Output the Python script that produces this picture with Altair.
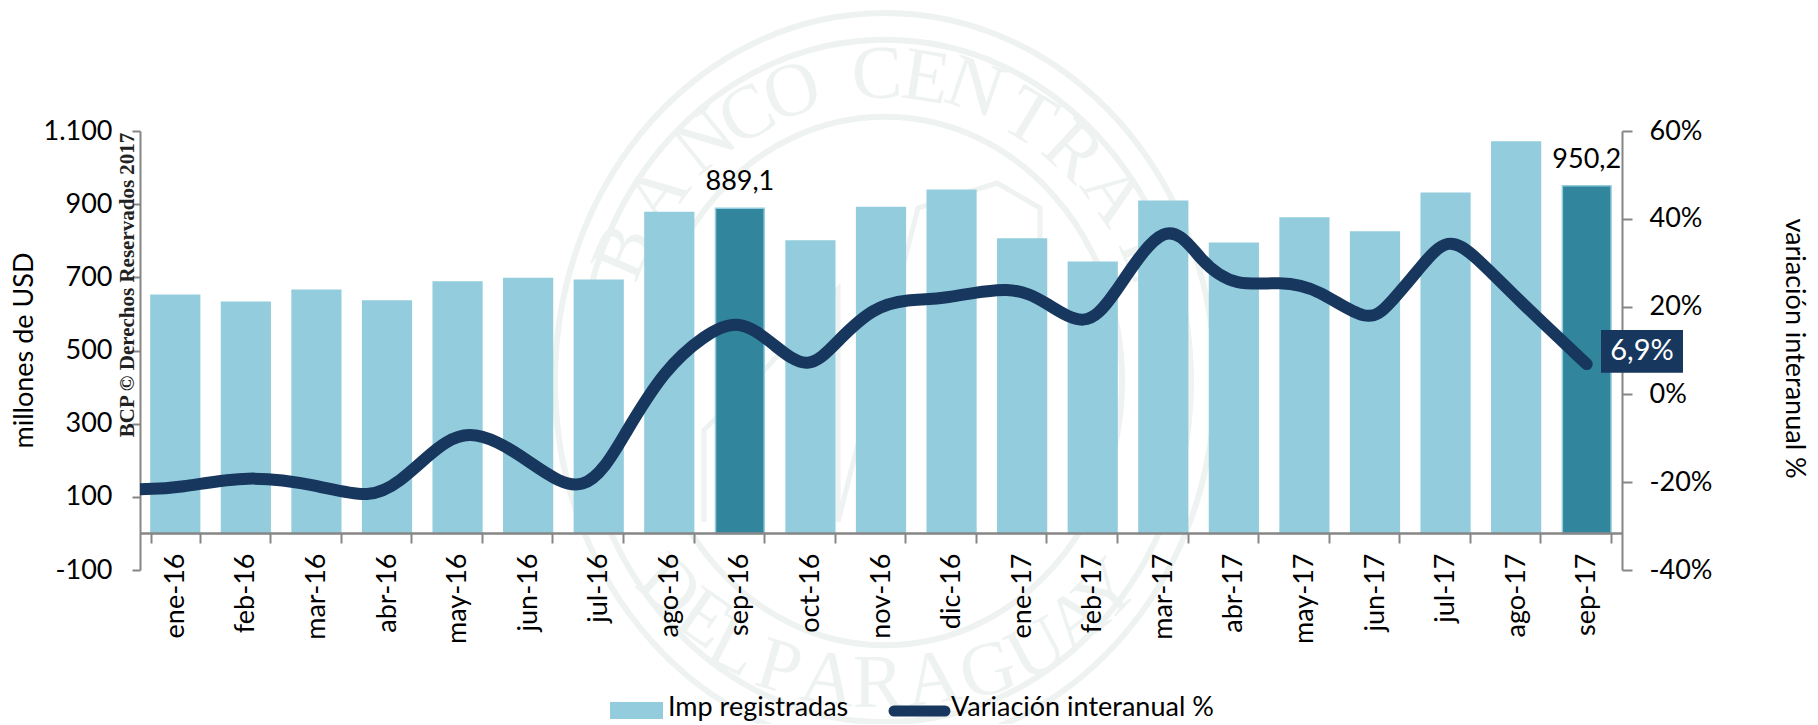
import altair as alt
import pandas as pd

months = ["ene-16","feb-16","mar-16","abr-16","may-16","jun-16","jul-16","ago-16","sep-16","oct-16","nov-16","dic-16",
          "ene-17","feb-17","mar-17","abr-17","may-17","jun-17","jul-17","ago-17","sep-17"]
imports = [651,632,665,635,687,697,692,877,889.1,799,891,938,805,741,908,793,862,824,930,1070,950.2]
highlight = ["sep-16","sep-17"]

line_pos = [0,0.55,1.53,2.51,3.27,3.71,4.02,4.63,5.48,6.31,6.90,7.43,7.99,8.49,8.98,9.47,9.89,10.39,10.88,11.38,
            12.36,12.85,13.39,13.77,14.55,15.04,15.53,16.17,16.69,17.41,17.70,18.15,18.53,18.93,19.48,20.5]
line_val = [-21.6,-21.4,-18.3,-20.6,-24.0,-19.5,-14.9,-6.5,-14.6,-24.8,-8.1,5.6,13.5,17.5,11.4,4.9,12.3,19.9,21.7,21.6,
            25.1,20.8,15.0,21.4,41.8,29.8,24.5,25.8,24.2,15.9,20.4,29.1,36.3,31.4,22.3,6.9]

FONT = "Lato"
LIGHT, DARK, NAVY, GREY, PALE = "#93CDDD", "#31859C", "#17375E", "#868686", "#EEF2F1"
FS = 27

# ---- page-coordinate scales for the watermark, label box and legend
px = alt.Scale(domain=[140, 1622], nice=False, zero=False)
py = alt.Scale(domain=[570, 131], nice=False, zero=False)
X = lambda f: alt.X(f, type="quantitative", scale=px, axis=None)
Y = lambda f: alt.Y(f, type="quantitative", scale=py, axis=None)

ring_x = [885, 885, 885]
ring_y = [381, 381, 381]
ring_rx = [330, 306, 237]
ring_w = [6, 6, 6]
ELLIPSE = "M-1,0A1,1.115,0,1,1,1,0A1,1.115,0,1,1,-1,0Z"
rings = alt.Chart(pd.DataFrame({"x": ring_x, "y": ring_y, "s": [(2*r)**2 for r in ring_rx], "w": ring_w})).mark_point(
    shape=ELLIPSE, filled=False, stroke=PALE, opacity=1).encode(
    x=X("x"), y=Y("y"), size=alt.Size("s:Q", scale=None, legend=None),
    strokeWidth=alt.StrokeWidth("w:Q", scale=None, legend=None))

letters = list("BANCOCENTRAL") + list("DELPARAGUAY")
letter_x = [624,658,705,747,792,877,926,975,1029,1073,1113,1148, 669,704,734,779,828,878,933,988,1037,1077,1107]
letter_y = [252,195,142,115,92,75,78,88,118,152,195,257, 587,619,647,668,680,684,680,671,650,619,592]
letter_a = [293,307,321,331,342,358,9,19,31,43,55,67, 42,35,27,16,8,0,352,344,332,322,314]
seal = alt.Chart(pd.DataFrame({"t": letters, "x": letter_x, "y": letter_y, "a": letter_a})).mark_text(
    font="Liberation Serif", fontSize=76, color=PALE, baseline="middle", align="center").encode(
    x=X("x"), y=Y("y"), text="t:N", angle=alt.Angle("a:Q", scale=None))

house_x = [704,704,760,838,838,918,997,1040,1040]
house_y = [522,430,375,289,522,208,183,208,300]
house = alt.Chart(pd.DataFrame({"x": house_x, "y": house_y, "o": list(range(len(house_x)))})).mark_line(
    color=PALE, strokeWidth=5).encode(x=X("x"), y=Y("y"), order="o:Q")

# ---- bars
x_scale = alt.Scale(domain=months, paddingInner=0.31, paddingOuter=0.155)
y_left = alt.Scale(domain=[-100, 1100], nice=False, zero=False)
bars_df = pd.DataFrame({"m": months, "v": imports,
                        "c": [DARK if m in highlight else LIGHT for m in months]})
bars = alt.Chart(bars_df).mark_bar(stroke=LIGHT, strokeWidth=1.5).encode(
    x=alt.X("m:N", scale=x_scale, title=None,
            axis=alt.Axis(orient="bottom", offset=-37, labelAngle=270, labelAlign="right", labelBaseline="middle",
                          labelPadding=10, labelFont=FONT, labelFontSize=FS, labelColor="#000", tickBand="extent",
                          tickSize=10, tickWidth=2, tickColor=GREY, domainColor=GREY, domainWidth=2.5, grid=False,
                          labelOverlap=False, zindex=1)),
    y=alt.Y("v:Q", scale=y_left,
            axis=alt.Axis(orient="left", values=[-100,100,300,500,700,900,1100], tickSize=8, tickWidth=2, tickColor=GREY,
                          domainColor=GREY, domainWidth=2, grid=False, labelFont=FONT, labelFontSize=FS, labelColor="#000",
                          labelPadding=20, labelExpr="datum.value == 1100 ? '1.100' : '' + datum.value",
                          title="millones de USD", titleFont=FONT, titleFontSize=FS, titleFontWeight="normal",
                          titleColor="#000", titleX=-116, titleY=219, titleAngle=270, titleAlign="center",
                          titleBaseline="middle")),
    color=alt.Color("c:N", scale=None, legend=None))

notes_df = bars_df[bars_df.m.isin(highlight)].assign(t=["889,1", "950,2"])
notes = alt.Chart(notes_df).mark_text(font=FONT, fontSize=FS, color="#000", baseline="alphabetic", dy=-18).encode(
    x=alt.X("m:N", scale=x_scale, axis=None), y=alt.Y("v:Q", scale=y_left, axis=None), text="t:N")

# ---- line
line = alt.Chart(pd.DataFrame({"p": line_pos, "v": line_val})).mark_line(
    color=NAVY, strokeWidth=12, interpolate="basis", strokeCap="round", clip=True).encode(
    x=alt.X("p:Q", scale=alt.Scale(domain=[0, 21], nice=False), axis=None),
    y=alt.Y("v:Q", scale=alt.Scale(domain=[-40, 60], nice=False, zero=False),
            axis=alt.Axis(orient="right", values=[-40,-20,0,20,40,60], tickSize=10, tickWidth=2, tickColor=GREY,
                          domainColor=GREY, domainWidth=2, grid=False, labelFont=FONT, labelFontSize=FS, labelColor="#000",
                          labelPadding=17, labelExpr="datum.value + '%'",
                          title="variación interanual %", titleFont=FONT, titleFontSize=FS, titleFontWeight="normal",
                          titleColor="#000", titleX=171, titleY=217, titleAngle=90, titleAlign="center",
                          titleBaseline="middle")))

# ---- end-of-line label
box = alt.Chart(pd.DataFrame({"x": [1601], "x2": [1683], "y": [330], "y2": [372.7]})).mark_rect(color=NAVY).encode(
    x=X("x"), x2="x2", y=Y("y"), y2="y2")
box_text = alt.Chart(pd.DataFrame({"x": [1642], "y": [351], "t": ["6,9%"]})).mark_text(
    font=FONT, fontSize=29, color="#fff", baseline="middle", align="center").encode(x=X("x"), y=Y("y"), text="t:N")

# ---- copyright text
bcp = alt.Chart(pd.DataFrame({"x": [128], "y": [285], "t": ["BCP © Derechos Reservados 2017"]})).mark_text(
    font="Liberation Serif", fontWeight="bold", fontSize=21, color="#222", angle=270, baseline="middle", align="center"
).encode(x=X("x"), y=Y("y"), text="t:N")

# ---- legend
leg_rect = alt.Chart(pd.DataFrame({"x": [610], "x2": [663], "y": [702], "y2": [719]})).mark_rect(color=LIGHT).encode(
    x=X("x"), x2="x2", y=Y("y"), y2="y2")
leg_line = alt.Chart(pd.DataFrame({"x": [894], "x2": [945], "y": [711]})).mark_rule(
    color=NAVY, strokeWidth=11, strokeCap="round").encode(x=X("x"), x2="x2", y=Y("y"))
leg_text = alt.Chart(pd.DataFrame({"x": [668, 951], "y": [716, 716], "t": ["Imp registradas", "Variación interanual %"]})).mark_text(
    font=FONT, fontSize=FS, color="#000", align="left", baseline="alphabetic").encode(x=X("x"), y=Y("y"), text="t:N")

chart = alt.layer(rings, seal, house, bars, notes, line, box, box_text, bcp, leg_rect, leg_line, leg_text).resolve_scale(
    x="independent", y="independent"
).properties(
    width=1482, height=439,
    padding={"left": 132, "top": 123, "right": 188, "bottom": 154},
    autosize=alt.AutoSizeParams(type="none"),
).configure_view(stroke=None)

chart.save("out.html", embed_options={"renderer": "svg", "actions": False})
